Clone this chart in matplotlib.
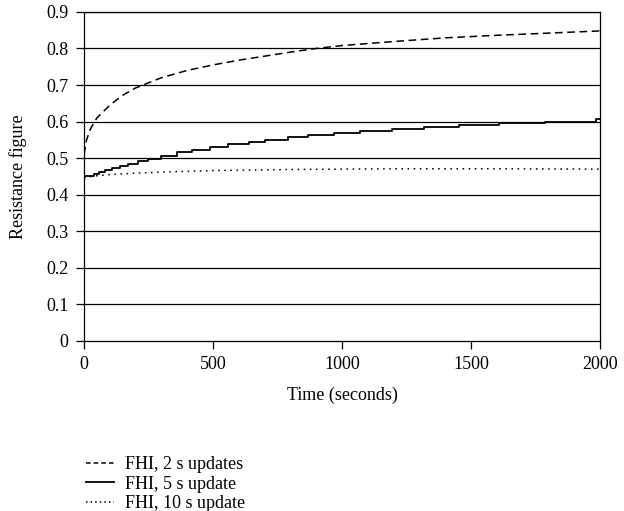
import matplotlib.pyplot as plt
from matplotlib.lines import Line2D

plt.rcParams['font.family'] = ['Liberation Serif', 'DejaVu Serif']

# FHI, 2 s updates (dashed)
t_2s = [0, 10, 25, 50, 100, 150, 200, 300, 400, 500, 600, 700, 800, 900,
        1000, 1200, 1400, 1600, 1800, 2000]
fhi_2s = [0.51, 0.55, 0.58, 0.61, 0.645, 0.672, 0.692, 0.72, 0.74, 0.755,
          0.768, 0.779, 0.790, 0.800, 0.808, 0.819, 0.829, 0.836, 0.842, 0.848]

# FHI, 5 s update (solid, stepped)
t_5s = [0, 20, 40, 60, 80, 110, 140, 170, 210, 250, 300, 360, 420, 490, 560,
        640, 700, 790, 870, 970, 1070, 1195, 1316, 1452, 1607, 1785, 1983, 2000]
fhi_5s = [0.450, 0.452, 0.457, 0.462, 0.467, 0.472, 0.478, 0.484, 0.491,
          0.499, 0.507, 0.516, 0.523, 0.531, 0.539, 0.545, 0.551, 0.557,
          0.563, 0.569, 0.574, 0.579, 0.585, 0.591, 0.596, 0.600, 0.606, 0.606]

# FHI, 10 s update (dotted)
t_10s = [0, 50, 100, 200, 300, 500, 800, 1200, 1600, 2000]
fhi_10s = [0.447, 0.452, 0.455, 0.459, 0.462, 0.466, 0.469, 0.471, 0.471, 0.470]

fig = plt.figure(figsize=(6.24, 5.11), dpi=100)
ax = fig.add_axes([0.1346, 0.3327, 0.827, 0.644])

for y in [0.1, 0.2, 0.3, 0.4, 0.5, 0.6, 0.7, 0.8, 0.9]:
    ax.axhline(y, color='black', lw=0.9, zorder=1)

ax.plot(t_2s, fhi_2s, color='black', ls=(0, (5, 3)), lw=1.1)
ax.plot(t_5s, fhi_5s, color='black', lw=1.3, drawstyle='steps-post')
ax.plot(t_10s, fhi_10s, color='black', ls=(0, (1, 3)), lw=1.1)

ax.set_xlim(0, 2000)
ax.set_ylim(0, 0.9)
ax.set_xticks([0, 500, 1000, 1500, 2000])
ax.set_yticks([0, 0.1, 0.2, 0.3, 0.4, 0.5, 0.6, 0.7, 0.8, 0.9])
ax.set_yticklabels(['0', '0.1', '0.2', '0.3', '0.4', '0.5', '0.6', '0.7', '0.8', '0.9'])
ax.tick_params(labelsize=13, length=6, width=0.9, color='black', pad=5)
for s in ax.spines.values():
    s.set_color('black')
    s.set_linewidth(0.9)
ax.set_xlabel('Time (seconds)', fontsize=13, labelpad=10)
ax.set_ylabel('Resistance figure', fontsize=13, labelpad=14)

handles = [Line2D([], [], color='black', ls=(0, (3, 2)), lw=1.1),
           Line2D([], [], color='black', lw=1.3),
           Line2D([], [], color='black', ls=(0, (1, 2)), lw=1.1)]
labels = ['FHI, 2 s updates', 'FHI, 5 s update', 'FHI, 10 s update']
fig.legend(handles, labels, loc='upper left', bbox_to_anchor=(0.127, 0.122),
           frameon=False, fontsize=13, handlelength=1.55, handletextpad=0.6,
           labelspacing=0.15, borderaxespad=0)

fig.savefig('out.png', dpi=100)
